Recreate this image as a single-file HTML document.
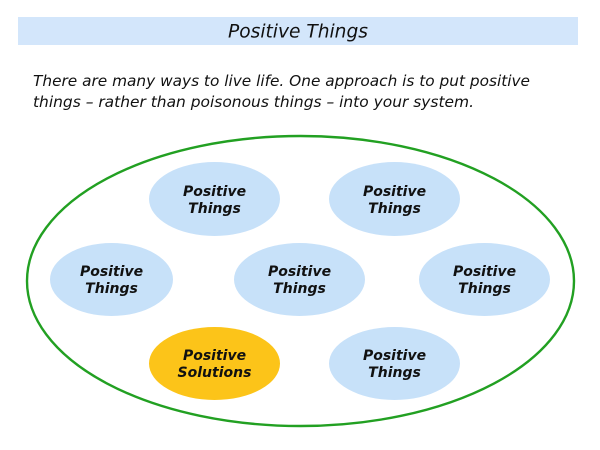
<!DOCTYPE html>
<html>
<head>
<meta charset="utf-8">
<style>
  html, body { margin: 0; padding: 0; background: #ffffff; }
  body { width: 600px; height: 450px; overflow: hidden; }
  svg { display: block; }
  .t { font-family: "DejaVu Sans", "Liberation Sans", sans-serif; font-style: italic; fill: #111; }
  .n { font-family: "DejaVu Sans", "Liberation Sans", sans-serif; font-style: italic; font-weight: bold; font-size: 14px; fill: #111; }
</style>
</head>
<body>
<svg width="600" height="450" viewBox="0 0 600 450" xmlns="http://www.w3.org/2000/svg">
  <rect x="0" y="0" width="600" height="450" fill="#ffffff"/>
  <!-- Title bar -->
  <rect x="18" y="17" width="560" height="28" fill="#d3e6fb"/>
  <text class="t" x="298" y="37.5" font-size="19" text-anchor="middle" textLength="140" lengthAdjust="spacingAndGlyphs">Positive Things</text>

  <!-- Body text -->
  <text class="t" x="33" y="86" font-size="15.5" textLength="497" lengthAdjust="spacingAndGlyphs">There are many ways to live life. One approach is to put positive</text>
  <text class="t" x="33" y="107" font-size="15.5" textLength="441" lengthAdjust="spacingAndGlyphs">things – rather than poisonous things – into your system.</text>

  <!-- Big green ellipse -->
  <ellipse cx="300.5" cy="281" rx="273.5" ry="145" fill="none" stroke="#22a022" stroke-width="2.4"/>

  <!-- Small ellipses -->
  <ellipse cx="214.5" cy="199" rx="65.5" ry="37" fill="#c7e1f9"/>
  <ellipse cx="394.5" cy="199" rx="65.5" ry="37" fill="#c7e1f9"/>
  <ellipse cx="111.5" cy="279.5" rx="61.5" ry="36.5" fill="#c7e1f9"/>
  <ellipse cx="299.5" cy="279.5" rx="65.5" ry="36.5" fill="#c7e1f9"/>
  <ellipse cx="484.5" cy="279.5" rx="65.5" ry="36.5" fill="#c7e1f9"/>
  <ellipse cx="214.5" cy="363.5" rx="65.5" ry="36.5" fill="#fcc419"/>
  <ellipse cx="394.5" cy="363.5" rx="65.5" ry="36.5" fill="#c7e1f9"/>

  <!-- Labels -->
  <text class="n" x="214.5" y="196" text-anchor="middle">Positive</text>
  <text class="n" x="214.5" y="213" text-anchor="middle">Things</text>

  <text class="n" x="394.5" y="196" text-anchor="middle">Positive</text>
  <text class="n" x="394.5" y="213" text-anchor="middle">Things</text>

  <text class="n" x="111.5" y="276" text-anchor="middle">Positive</text>
  <text class="n" x="111.5" y="293" text-anchor="middle">Things</text>

  <text class="n" x="299.5" y="276" text-anchor="middle">Positive</text>
  <text class="n" x="299.5" y="293" text-anchor="middle">Things</text>

  <text class="n" x="484.5" y="276" text-anchor="middle">Positive</text>
  <text class="n" x="484.5" y="293" text-anchor="middle">Things</text>

  <text class="n" x="214.5" y="360" text-anchor="middle">Positive</text>
  <text class="n" x="214.5" y="377" text-anchor="middle">Solutions</text>

  <text class="n" x="394.5" y="360" text-anchor="middle">Positive</text>
  <text class="n" x="394.5" y="377" text-anchor="middle">Things</text>
</svg>
</body>
</html>
